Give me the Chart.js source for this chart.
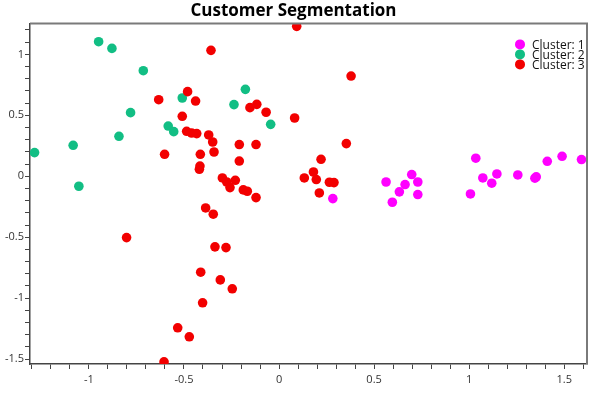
<!DOCTYPE html>
<html>
<head>
<meta charset="utf-8">
<script src="https://cdn.jsdelivr.net/npm/chart.js@4/dist/chart.umd.min.js"></script>
<style>
  html, body { margin: 0; padding: 0; background: #fff; }
  #wrap { width: 609px; height: 395px; }
</style>
</head>
<body>
<div id="wrap"><canvas id="segChart"></canvas></div>
<script>
// Cluster 1 (magenta)
const c1x = [0.283, 0.563, 0.698, 0.663, 0.633, 0.596, 0.730, 0.730,
             1.035, 1.007, 1.072, 1.119, 1.146, 1.256, 1.346, 1.353, 1.411, 1.489, 1.591];
const c1y = [-0.183, -0.047, 0.014, -0.068, -0.128, -0.213, -0.047, -0.150,
             0.148, -0.145, -0.014, -0.057, 0.019, 0.011, -0.016, -0.005, 0.123, 0.164, 0.137];

// Cluster 2 (green)
const c2x = [-1.286, -1.083, -1.053, -0.949, -0.879, -0.714, -0.842, -0.781,
             -0.583, -0.554, -0.509, -0.237, -0.177, -0.044];
const c2y = [0.194, 0.254, -0.082, 1.104, 1.049, 0.866, 0.328, 0.522,
             0.412, 0.366, 0.642, 0.588, 0.713, 0.426];

// Cluster 3 (red)
const c3x = [0.093, -0.358, -0.633, -0.481, -0.439, -0.509, -0.602, -0.486, -0.460, -0.433,
             -0.370, -0.349, -0.342, -0.414, -0.416, -0.419, -0.209, -0.121, -0.209, -0.153,
             -0.117, -0.068, 0.082, -0.298, -0.275, -0.230, -0.258, -0.188, -0.167, -0.121,
             -0.386, -0.346, -0.802, -0.337, -0.279, -0.412, -0.309, -0.246, -0.402, -0.533,
             -0.472, -0.605, 0.379, 0.354, 0.221, 0.133, 0.181, 0.196, 0.265, 0.289, 0.212];
const c3y = [1.230, 1.033, 0.628, 0.694, 0.617, 0.492, 0.180, 0.369, 0.355, 0.350,
             0.339, 0.281, 0.199, 0.180, 0.084, 0.057, 0.260, 0.260, 0.125, 0.563,
             0.590, 0.525, 0.478, -0.014, -0.047, -0.033, -0.093, -0.112, -0.123, -0.175,
             -0.260, -0.311, -0.503, -0.579, -0.585, -0.787, -0.850, -0.923, -1.038, -1.243,
             -1.317, -1.522, 0.822, 0.268, 0.139, -0.014, 0.035, -0.027, -0.049, -0.052, -0.137];

const clusterNames = ['Cluster: 1', 'Cluster: 2', 'Cluster: 3'];
const clusterColors = ['#FF00FF', '#12BE84', '#F20000'];

const xRange = [-1.31, 1.62];
const yRange = [-1.54, 1.254];

function toPoints(xs, ys) {
    return xs.map((x, i) => ({ x: x, y: ys[i] }));
}

// keep only ticks on the 0.1 grid, label every 0.5
function keepTenths(scale) {
    scale.ticks = scale.ticks.filter(t => Math.abs(t.value * 10 - Math.round(t.value * 10)) < 1e-6);
}
function halfLabel(v) {
    if (Math.abs(v * 2 - Math.round(v * 2)) > 1e-6) return '';
    return String(Math.round(v * 2) / 2);
}

// frame around plot area and vertical legend in the top right corner
const framePlugin = {
    id: 'frame',
    afterDatasetsDraw(chart) {
        const ctx = chart.ctx;
        const a = chart.chartArea;
        ctx.save();
        ctx.strokeStyle = '#7a7a7a';
        ctx.lineWidth = 2;
        ctx.beginPath();
        ctx.moveTo(a.left, a.top);
        ctx.lineTo(a.right, a.top);
        ctx.lineTo(a.right, a.bottom);
        ctx.stroke();
        ctx.restore();
    },
    afterDraw(chart) {
        const ctx = chart.ctx;
        const a = chart.chartArea;
        ctx.save();
        ctx.font = '12px "Open Sans", sans-serif';
        ctx.textBaseline = 'middle';
        ctx.textAlign = 'left';
        chart.data.datasets.forEach((ds, i) => {
            const cy = a.top + 21 + i * 10;
            const cx = a.right - 67;
            ctx.fillStyle = ds.backgroundColor;
            ctx.beginPath();
            ctx.arc(cx, cy, 5, 0, Math.PI * 2);
            ctx.fill();
            ctx.fillStyle = '#111';
            ctx.fillText(ds.label, cx + 12, cy + 1);
        });
        ctx.restore();
    }
};

const datasets = [
    { label: clusterNames[0], data: toPoints(c1x, c1y), backgroundColor: clusterColors[0], order: 3 },
    { label: clusterNames[1], data: toPoints(c2x, c2y), backgroundColor: clusterColors[1], order: 2 },
    { label: clusterNames[2], data: toPoints(c3x, c3y), backgroundColor: clusterColors[2], order: 1 }
].map(d => Object.assign(d, {
    pointRadius: 4.8,
    pointHoverRadius: 4.8,
    borderWidth: 0,
    borderColor: d.backgroundColor
}));

const ctx = document.getElementById('segChart').getContext('2d');
new Chart(ctx, {
    type: 'scatter',
    data: { datasets: datasets },
    plugins: [framePlugin],
    options: {
        responsive: true,
        maintainAspectRatio: false,
        animation: false,
        events: [],
        layout: { padding: { left: 0, right: 22, top: 0, bottom: 0 } },
        plugins: {
            legend: { display: false },
            tooltip: { enabled: false },
            title: {
                display: true,
                text: 'Customer Segmentation',
                color: '#000',
                font: { family: '"Open Sans", sans-serif', size: 17, weight: 'bold', lineHeight: 1.2 },
                padding: { top: 1, bottom: 2 }
            }
        },
        scales: {
            x: {
                type: 'linear',
                min: xRange[0],
                max: xRange[1],
                afterBuildTicks: keepTenths,
                afterFit(scale) { scale.height = 31; },
                grid: { drawOnChartArea: false, tickLength: 5, color: '#444' },
                border: { color: '#444', width: 1.5 },
                ticks: {
                    stepSize: 0.1,
                    includeBounds: false,
                    autoSkip: false,
                    maxRotation: 0,
                    padding: 4,
                    color: '#333',
                    font: { family: '"Open Sans", sans-serif', size: 11 },
                    callback: halfLabel
                }
            },
            y: {
                type: 'linear',
                min: yRange[0],
                max: yRange[1],
                afterBuildTicks: keepTenths,
                afterFit(scale) { scale.width = 30; },
                grid: { drawOnChartArea: false, tickLength: 5, color: '#444' },
                border: { color: '#444', width: 1.5 },
                ticks: {
                    stepSize: 0.1,
                    includeBounds: false,
                    autoSkip: false,
                    padding: 1,
                    color: '#333',
                    font: { family: '"Open Sans", sans-serif', size: 11 },
                    callback: halfLabel
                }
            }
        }
    }
});
</script>
</body>
</html>
